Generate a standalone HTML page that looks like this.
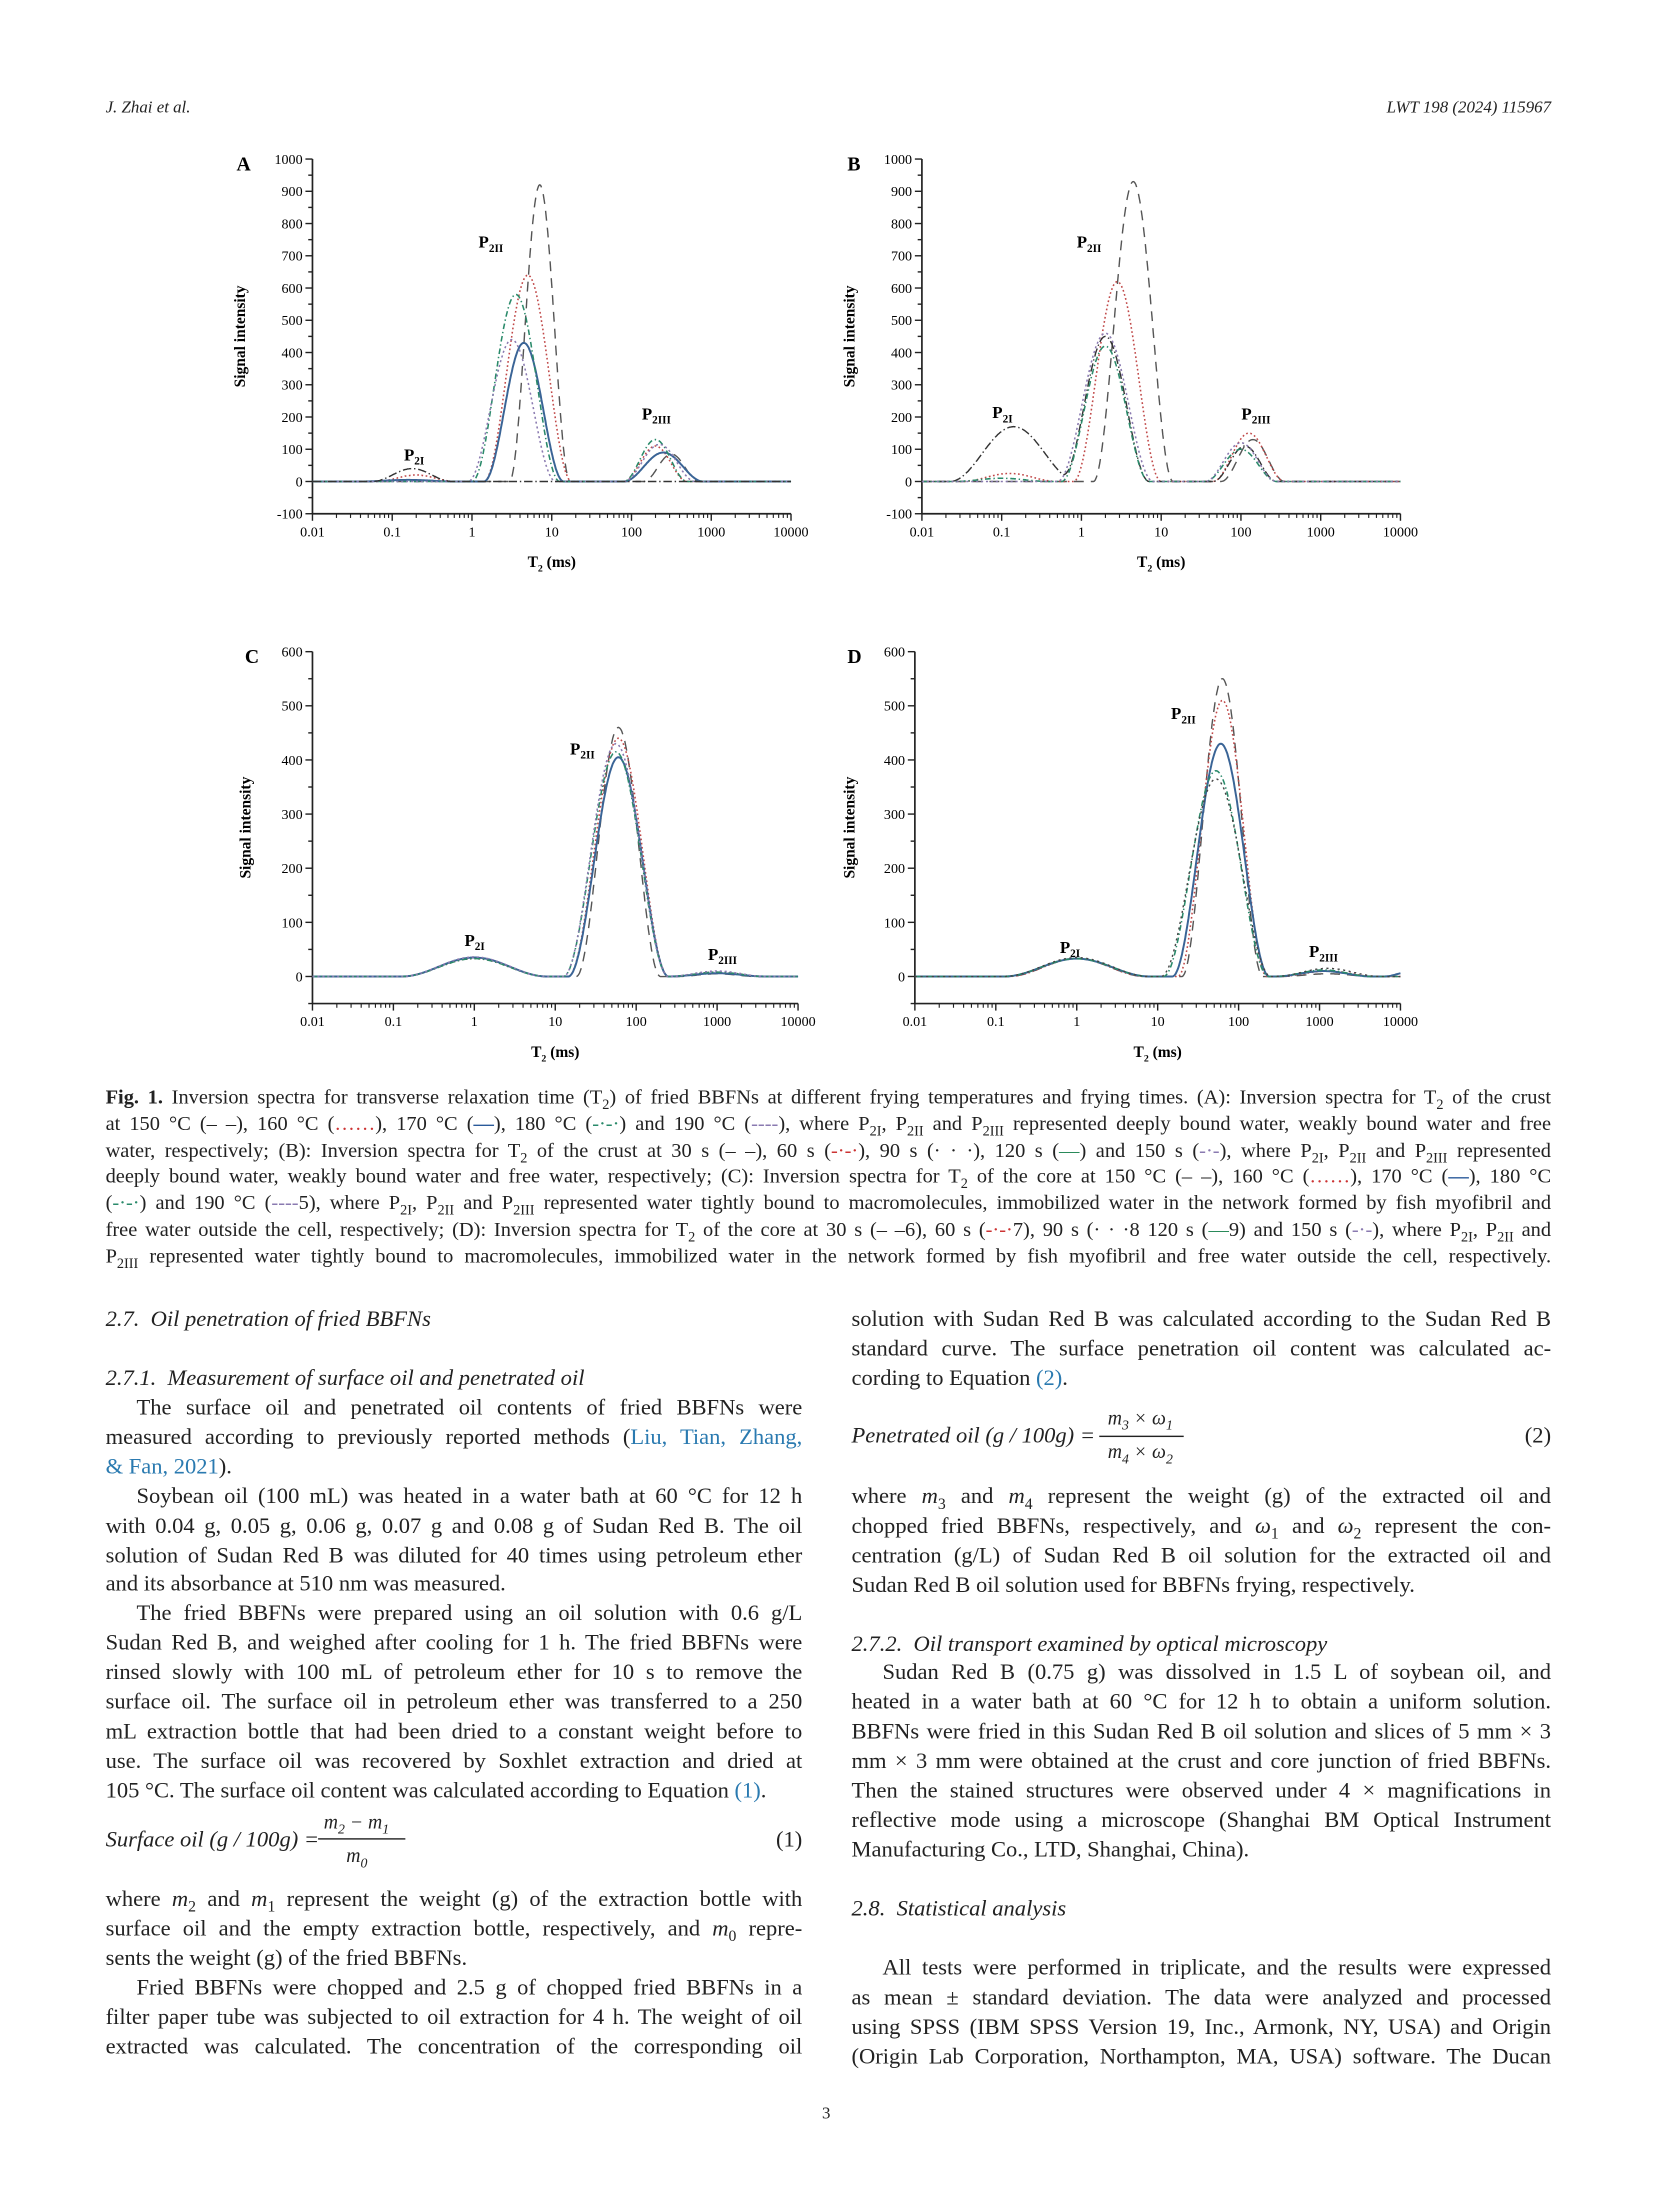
<!DOCTYPE html>
<html><head><meta charset="utf-8">
<style>
html,body{margin:0;padding:0;background:#fff;}
body{width:1654px;height:2205px;overflow:hidden;position:relative;}
#pg{position:absolute;left:0;top:0;width:1175px;height:1567px;transform:scale(1.4075);transform-origin:0 0;font-family:"Liberation Serif",serif;color:#222;}
.hd{position:absolute;top:69px;font-size:12px;font-style:italic;}
.col{position:absolute;font-size:16px;line-height:20.95px;}
.l{white-space:nowrap;text-align:justify;text-align-last:justify;height:20.95px;}
.e{text-align-last:left;}
.cap{position:absolute;left:75px;top:771px;width:1027px;font-size:14.5px;line-height:18.8px;}
.cap .l{height:18.8px;}
.it{font-style:italic;}
.ind{padding-left:22px;}
a,.b{color:#2a7ab0;}
sub{font-size:70%;line-height:0;}
.eq{position:relative;height:50px;}
.sp{height:20.95px;}
</style></head><body><div id="pg">
<div class="hd" style="left:75px">J. Zhai et al.</div>
<div class="hd" style="left:860px;width:242px;text-align:right">LWT 198 (2024) 115967</div>
<svg id="ch" width="1175" height="760" style="position:absolute;left:0;top:0" font-family="Liberation Serif, serif"></svg>

<div class="cap">
<div class="l"><b>Fig. 1.</b> Inversion spectra for transverse relaxation time (T<sub>2</sub>) of fried BBFNs at different frying temperatures and frying times. (A): Inversion spectra for T<sub>2</sub> of the crust</div>
<div class="l">at 150 °C (– –), 160 °C (<span style="color:#c33">……</span>), 170 °C (<span style="color:#2a5a9a"><b>—</b></span>), 180 °C (<span style="color:#2a8a6a">-·-·</span>) and 190 °C (<span style="color:#8a7ab0">----</span>), where P<sub>2I</sub>, P<sub>2II</sub> and P<sub>2III</sub> represented deeply bound water, weakly bound water and free</div>
<div class="l">water, respectively; (B): Inversion spectra for T<sub>2</sub> of the crust at 30 s (– –), 60 s (<span style="color:#c33">-·-·</span>), 90 s (· · ·), 120 s (<span style="color:#2a8a5a">—</span>) and 150 s (<span style="color:#8a7ab0">-·-</span>), where P<sub>2I</sub>, P<sub>2II</sub> and P<sub>2III</sub> represented</div>
<div class="l">deeply bound water, weakly bound water and free water, respectively; (C): Inversion spectra for T<sub>2</sub> of the core at 150 °C (– –), 160 °C (<span style="color:#c33">……</span>), 170 °C (<span style="color:#2a5a9a"><b>—</b></span>), 180 °C</div>
<div class="l">(<span style="color:#2a8a6a">-·-·</span>) and 190 °C (<span style="color:#8a7ab0">----</span>5), where P<sub>2I</sub>, P<sub>2II</sub> and P<sub>2III</sub> represented water tightly bound to macromolecules, immobilized water in the network formed by fish myofibril and</div>
<div class="l">free water outside the cell, respectively; (D): Inversion spectra for T<sub>2</sub> of the core at 30 s (– –6), 60 s (<span style="color:#c33">-·-·</span>7), 90 s (· · ·8 120 s (<span style="color:#2a8a5a">—</span>9) and 150 s (<span style="color:#8a7ab0">-·-</span>), where P<sub>2I</sub>, P<sub>2II</sub> and</div>
<div class="l">P<sub>2III</sub> represented water tightly bound to macromolecules, immobilized water in the network formed by fish myofibril and free water outside the cell, respectively.</div>
</div>

<div class="col" style="left:75px;top:928px;width:495px;">
<div class="l e it">2.7.&nbsp;&nbsp;Oil penetration of fried BBFNs</div>
<div class="sp"></div>
<div class="l e it">2.7.1.&nbsp;&nbsp;Measurement of surface oil and penetrated oil</div>
<div class="l ind">The surface oil and penetrated oil contents of fried BBFNs were</div>
<div class="l">measured according to previously reported methods (<a>Liu, Tian, Zhang,</a></div>
<div class="l e"><a>&amp; Fan, 2021</a>).</div>
<div class="l ind">Soybean oil (100 mL) was heated in a water bath at 60 °C for 12 h</div>
<div class="l">with 0.04 g, 0.05 g, 0.06 g, 0.07 g and 0.08 g of Sudan Red B. The oil</div>
<div class="l">solution of Sudan Red B was diluted for 40 times using petroleum ether</div>
<div class="l e">and its absorbance at 510 nm was measured.</div>
<div class="l ind">The fried BBFNs were prepared using an oil solution with 0.6 g/L</div>
<div class="l">Sudan Red B, and weighed after cooling for 1 h. The fried BBFNs were</div>
<div class="l">rinsed slowly with 100 mL of petroleum ether for 10 s to remove the</div>
<div class="l">surface oil. The surface oil in petroleum ether was transferred to a 250</div>
<div class="l">mL extraction bottle that had been dried to a constant weight before to</div>
<div class="l">use. The surface oil was recovered by Soxhlet extraction and dried at</div>
<div class="l e">105 °C. The surface oil content was calculated according to Equation <a>(1)</a>.</div>
<div class="eq" style="height:56px"><span class="it" style="position:absolute;left:0;top:14px">Surface oil (g / 100g) =</span>
<span class="it" style="position:absolute;left:155px;top:2px;font-size:14px">m<sub>2</sub> − m<sub>1</sub></span>
<span style="position:absolute;left:151px;top:22px;width:62px;border-top:1px solid #222"></span>
<span class="it" style="position:absolute;left:171px;top:26px;font-size:14px">m<sub>0</sub></span>
<span style="position:absolute;right:0;top:14px">(1)</span></div>
<div class="l">where <i>m</i><sub>2</sub> and <i>m</i><sub>1</sub> represent the weight (g) of the extraction bottle with</div>
<div class="l">surface oil and the empty extraction bottle, respectively, and <i>m</i><sub>0</sub> repre-</div>
<div class="l e">sents the weight (g) of the fried BBFNs.</div>
<div class="l ind">Fried BBFNs were chopped and 2.5 g of chopped fried BBFNs in a</div>
<div class="l">filter paper tube was subjected to oil extraction for 4 h. The weight of oil</div>
<div class="l">extracted was calculated. The concentration of the corresponding oil</div>
</div>

<div class="col" style="left:605px;top:928px;width:497px;">
<div class="l">solution with Sudan Red B was calculated according to the Sudan Red B</div>
<div class="l">standard curve. The surface penetration oil content was calculated ac-</div>
<div class="l e">cording to Equation <a>(2)</a>.</div>
<div class="eq" style="height:63px"><span class="it" style="position:absolute;left:0;top:20px">Penetrated oil (g / 100g) =</span>
<span class="it" style="position:absolute;left:182px;top:8px;font-size:14px">m<sub>3</sub> × ω<sub>1</sub></span>
<span style="position:absolute;left:176px;top:29px;width:60px;border-top:1px solid #222"></span>
<span class="it" style="position:absolute;left:182px;top:32px;font-size:14px">m<sub>4</sub> × ω<sub>2</sub></span>
<span style="position:absolute;right:0;top:20px">(2)</span></div>
<div class="l">where <i>m</i><sub>3</sub> and <i>m</i><sub>4</sub> represent the weight (g) of the extracted oil and</div>
<div class="l">chopped fried BBFNs, respectively, and <i>ω</i><sub>1</sub> and <i>ω</i><sub>2</sub> represent the con-</div>
<div class="l">centration (g/L) of Sudan Red B oil solution for the extracted oil and</div>
<div class="l e">Sudan Red B oil solution used for BBFNs frying, respectively.</div>
<div class="sp"></div>
<div class="l e it">2.7.2.&nbsp;&nbsp;Oil transport examined by optical microscopy</div>
<div class="l ind">Sudan Red B (0.75 g) was dissolved in 1.5 L of soybean oil, and</div>
<div class="l">heated in a water bath at 60 °C for 12 h to obtain a uniform solution.</div>
<div class="l">BBFNs were fried in this Sudan Red B oil solution and slices of 5 mm × 3</div>
<div class="l">mm × 3 mm were obtained at the crust and core junction of fried BBFNs.</div>
<div class="l">Then the stained structures were observed under 4 × magnifications in</div>
<div class="l">reflective mode using a microscope (Shanghai BM Optical Instrument</div>
<div class="l e">Manufacturing Co., LTD, Shanghai, China).</div>
<div class="sp"></div>
<div class="l e it">2.8.&nbsp;&nbsp;Statistical analysis</div>
<div class="sp"></div>
<div class="l ind">All tests were performed in triplicate, and the results were expressed</div>
<div class="l">as mean ± standard deviation. The data were analyzed and processed</div>
<div class="l">using SPSS (IBM SPSS Version 19, Inc., Armonk, NY, USA) and Origin</div>
<div class="l">(Origin Lab Corporation, Northampton, MA, USA) software. The Ducan</div>
</div>
<div style="position:absolute;left:584px;top:1494px;font-size:12px">3</div>
</div>
<script>
var NS="http://www.w3.org/2000/svg",svg=document.getElementById('ch');
function el(t,a,txt){var e=document.createElementNS(NS,t);for(var k in a)e.setAttribute(k,a[k]);if(txt!=null)e.textContent=txt;svg.appendChild(e);return e;}
var ST={
 dash:{stroke:"#555",da:"7,5",w:1},
 red:{stroke:"#c04848",da:"1.2,1.8",w:1.1},
 blue:{stroke:"#3a6496",da:"",w:1.4},
 green:{stroke:"#2a8a6a",da:"4,2,1,2",w:1.1},
 purp:{stroke:"#8a7ab0",da:"1.5,2",w:1.1},
 dk:{stroke:"#333",da:"6,2,1,2",w:1},
 dot:{stroke:"#444",da:"1.5,2.5",w:1}
};
function chart(o){
 var x0=o.x0,x1=o.x1,yT=o.yT,yB=o.yB,ymin=o.ymin,ymax=o.ymax;
 var X=function(l){return x0+(l+2)/6*(x1-x0);},Y=function(v){return yB-(v-ymin)/(ymax-ymin)*(yB-yT);};
 el('line',{x1:x0,y1:yT,x2:x0,y2:yB,stroke:"#222","stroke-width":1.2});
 el('line',{x1:x0,y1:yB,x2:x1,y2:yB,stroke:"#222","stroke-width":1.2});
 for(var v=ymin;v<=ymax+0.1;v+=o.minor){var maj=Math.abs(v%o.major)<0.01;
  el('line',{x1:x0-(maj?5:3),y1:Y(v),x2:x0,y2:Y(v),stroke:"#222","stroke-width":1});
  if(maj&&v>=o.lab0)el('text',{x:x0-7,y:Y(v)+3.5,"font-size":10,"text-anchor":"end"},String(v));}
 var lb=["0.01","0.1","1","10","100","1000","10000"];
 for(var d=-2;d<=4;d++){el('line',{x1:X(d),y1:yB,x2:X(d),y2:yB+5,stroke:"#222","stroke-width":1});
  el('text',{x:X(d),y:yB+16,"font-size":10,"text-anchor":"middle"},lb[d+2]);
  if(d<4)for(var m=2;m<10;m++){var xx=X(d+Math.log10(m));el('line',{x1:xx,y1:yB,x2:xx,y2:yB+3,stroke:"#222","stroke-width":0.8});}}
 el('text',{x:(x0+x1)/2,y:yB+38,"font-size":11,"font-weight":"bold","text-anchor":"middle"},"T").innerHTML='T<tspan font-size="7" dy="3">2</tspan><tspan dy="-3"> (ms)</tspan>';
 var cy=(yT+yB)/2;el('text',{x:o.sx,y:cy,"font-size":11,"font-weight":"bold","text-anchor":"middle",transform:"rotate(-90 "+o.sx+" "+cy+")"},"Signal intensity");
 el('text',{x:o.lx,y:yT+8,"font-size":14,"font-weight":"bold"},o.L);
 o.labels.forEach(function(p){var t=el('text',{x:p[0],y:p[1],"font-size":12,"font-weight":"bold"});t.innerHTML='P<tspan font-size="8" dy="3">'+p[2]+'</tspan>';});
 o.series.forEach(function(s){var st=ST[s[0]],bumps=s[1],d="";
  for(var l=-2;l<=4.0001;l+=0.01){var v=0;bumps.forEach(function(b){var u=(l-b[0])/b[1];if(Math.abs(u)<1)v+=b[2]*Math.pow(Math.cos(Math.PI/2*u),2);});
   d+=(d?"L":"M")+X(l).toFixed(1)+","+Y(v).toFixed(1);}
  var a={d:d,fill:"none",stroke:st.stroke,"stroke-width":st.w};if(st.da)a["stroke-dasharray"]=st.da;el('path',a);});
}
chart({x0:222,x1:562,yT:113,yB:365,ymin:-100,ymax:1000,major:100,minor:50,lab0:-100,sx:174,lx:168,L:"A",
 labels:[[287,327,"2I"],[340,176,"2II"],[456,298,"2III"]],
 series:[["dash",[[0.85,0.38,920],[2.5,0.35,85]]],["red",[[0.7,0.55,640],[-0.7,0.5,20],[2.3,0.4,110]]],
 ["blue",[[0.65,0.5,430],[-0.8,0.6,5],[2.4,0.5,90]]],["green",[[0.55,0.55,580],[2.3,0.4,130]]],
 ["purp",[[0.5,0.55,440],[2.35,0.45,115]]],["dk",[[-0.75,0.5,40]]]]});
chart({x0:655,x1:995,yT:113,yB:365,ymin:-100,ymax:1000,major:100,minor:50,lab0:-100,sx:607,lx:602,L:"B",
 labels:[[705,297,"2I"],[765,176,"2II"],[882,298,"2III"]],
 series:[["dash",[[0.65,0.5,930],[2.15,0.4,130]]],["red",[[0.45,0.55,620],[-0.9,0.6,25],[2.1,0.45,150]]],
 ["dk",[[-0.85,0.8,170],[0.3,0.55,450],[2.05,0.4,110]]],["green",[[0.3,0.55,420],[-1,0.6,10],[2.0,0.45,100]]],
 ["purp",[[0.3,0.6,460],[2.0,0.45,120]]]]});
chart({x0:222,x1:567,yT:463,yB:713,ymin:-50,ymax:600,major:100,minor:50,lab0:0,sx:178,lx:174,L:"C",
 labels:[[330,672,"2I"],[405,536,"2II"],[503,682,"2III"]],
 series:[["dash",[[0,0.9,35],[1.78,0.52,460],[3,0.5,5]]],["red",[[0,0.9,33],[1.78,0.62,440],[3,0.6,8]]],
 ["blue",[[0,0.9,35],[1.78,0.62,405],[3,0.6,6]]],["green",[[0,0.9,33],[1.75,0.65,415],[3,0.6,8]]],
 ["purp",[[0,0.9,36],[1.75,0.65,430],[3,0.6,10]]]]});
chart({x0:650,x1:995,yT:463,yB:713,ymin:-50,ymax:600,major:100,minor:50,lab0:0,sx:607,lx:602,L:"D",
 labels:[[753,677,"2I"],[832,511,"2II"],[930,680,"2III"]],
 series:[["dash",[[0,0.85,33],[1.8,0.5,550],[3.1,0.6,5]]],["red",[[0,0.85,33],[1.8,0.55,510],[3.1,0.6,10]]],
 ["blue",[[0,0.9,33],[1.78,0.6,430],[3.05,0.6,10],[4.1,0.3,8]]],["green",[[0,0.9,33],[1.72,0.65,380],[3.05,0.6,12]]],
 ["dot",[[0,0.9,35],[1.72,0.68,365],[3.1,0.65,15]]]]});
</script>
</body></html>
